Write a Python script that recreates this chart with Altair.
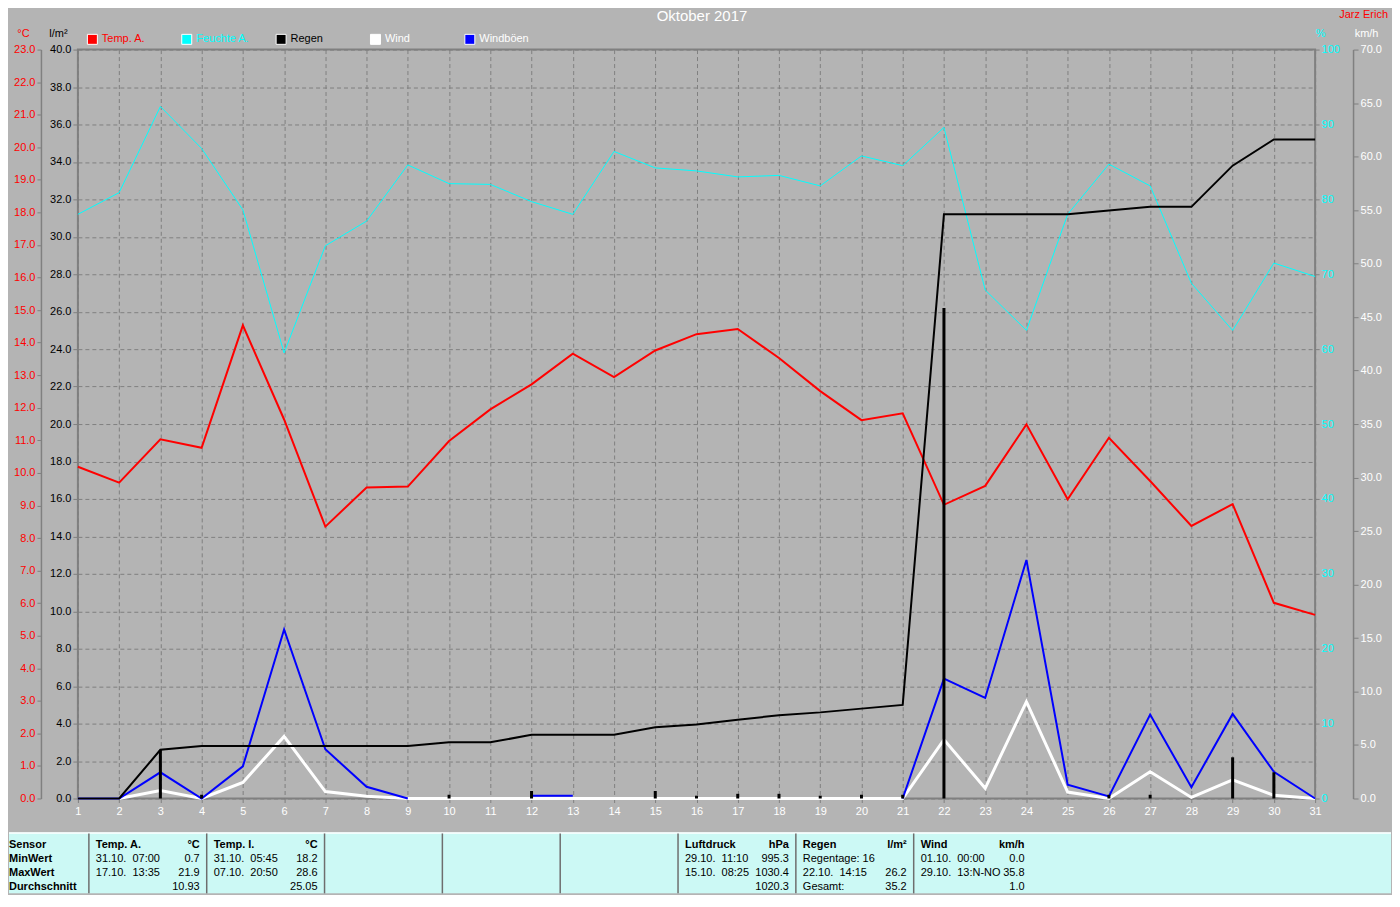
import altair as alt
import pandas as pd

FONT = "Liberation Sans"
GRAY = "#808080"
BG = "#b4b4b4"

# ---------------- data ----------------
days = list(range(1, 32))
temp_a = [10.19, 9.70, 11.03, 10.77, 14.53, 11.64, 8.35, 9.55, 9.58, 10.98,
          11.95, 12.72, 13.66, 12.94, 13.76, 14.26, 14.42, 13.53, 12.51, 11.62,
          11.83, 9.02, 9.60, 11.49, 9.19, 11.08, 9.75, 8.37, 9.04, 6.01, 5.64]
humidity = [78.0, 80.9, 92.4, 86.8, 78.6, 59.5, 73.8, 77.1, 84.6, 82.1,
            82.0, 79.7, 78.0, 86.4, 84.2, 83.8, 83.0, 83.2, 81.8, 85.8,
            84.5, 89.6, 67.9, 62.5, 78.0, 84.7, 81.8, 68.8, 62.5, 71.5, 69.7]
rain_total = [0.0, 0.0, 2.6, 2.8, 2.8, 2.8, 2.8, 2.8, 2.8, 3.0,
              3.0, 3.4, 3.4, 3.4, 3.8, 3.95, 4.2, 4.45, 4.6, 4.8,
              5.0, 31.2, 31.2, 31.2, 31.2, 31.4, 31.6, 31.6, 33.8, 35.2, 35.2]
rain_daily = [0.0, 0.0, 2.6, 0.2, 0.0, 0.0, 0.0, 0.0, 0.0, 0.2,
              0.0, 0.4, 0.0, 0.0, 0.4, 0.15, 0.25, 0.25, 0.15, 0.2,
              0.2, 26.2, 0.0, 0.0, 0.0, 0.2, 0.2, 0.0, 2.2, 1.4, 0.0]
wind = [0.0, 0.0, 0.75, 0.0, 1.5, 5.8, 0.65, 0.2, 0.0, 0.0,
        0.0, 0.0, 0.0, 0.0, 0.0, 0.0, 0.0, 0.0, 0.0, 0.0,
        0.0, 5.5, 0.95, 9.05, 0.6, 0.0, 2.5, 0.1, 1.75, 0.3, 0.0]
gusts = [0.0, 0.0, 2.45, 0.0, 3.0, 15.8, 4.6, 1.1, 0.0, None,
         None, 0.25, 0.25, None, None, None, None, None, None, None,
         0.0, 11.2, 9.4, 22.3, 1.3, 0.2, 7.85, 1.05, 7.9, 2.5, 0.0]

series_names = ["Temp. A.", "Feuchte A.", "Regen", "Wind", "Windböen"]
series_colors = ["#ff0000", "#00ffff", "#000000", "#ffffff", "#0000ff"]

chart_title = ["Oktober 2017"]
author = ["Jarz Erich"]

rain_ticks = [i * 2 for i in range(21)]
temp_ticks = list(range(24))
hum_ticks = list(range(0, 101, 10))
wind_ticks = list(range(0, 71, 5))

# statistics table
row_names = ["Sensor", "MinWert", "MaxWert", "Durchschnitt"]
col_titles = ["Temp. A.", "Temp. I.", "", "", "", "Luftdruck", "Regen", "Wind"]
col_units = ["°C", "°C", "", "", "", "hPa", "l/m²", "km/h"]
col_left = [
    ["31.10.\u00a0 07:00", "17.10.\u00a0 13:35", ""],
    ["31.10.\u00a0 05:45", "07.10.\u00a0 20:50", ""],
    ["", "", ""], ["", "", ""], ["", "", ""],
    ["29.10.\u00a0 11:10", "15.10.\u00a0 08:25", ""],
    ["Regentage: 16", "22.10.\u00a0 14:15", "Gesamt:"],
    ["01.10.\u00a0 00:00", "29.10.\u00a0 13:N-NO", ""],
]
col_right = [
    ["0.7", "21.9", "10.93"],
    ["18.2", "28.6", "25.05"],
    ["", "", ""], ["", "", ""], ["", "", ""],
    ["995.3", "1030.4", "1020.3"],
    ["", "26.2", "35.2"],
    ["0.0", "35.8", "1.0"],
]
separators = list(range(8))

# ---------------- tables for the library ----------------
df = pd.DataFrame({"day": days, "temp": temp_a, "hum": humidity,
                   "rain_total": rain_total, "rain_day": rain_daily, "wind": wind})

g_rows, seg, prev_none = [], 0, False
for d, g in zip(days, gusts):
    if g is None:
        if not prev_none:
            seg += 1
        prev_none = True
        continue
    prev_none = False
    g_rows.append({"day": d, "gust": g, "seg": seg})
gust_df = pd.DataFrame(g_rows)

cells = []
for k in range(len(col_titles)):
    cells.append({"pos": k, "row": row_names[0], "text": col_titles[k], "side": "L", "bold": 1})
    cells.append({"pos": k + 1, "row": row_names[0], "text": col_units[k], "side": "R", "bold": 1})
    for r in range(3):
        cells.append({"pos": k, "row": row_names[r + 1], "text": col_left[k][r], "side": "L", "bold": 0})
        cells.append({"pos": k + 1, "row": row_names[r + 1], "text": col_right[k][r], "side": "R", "bold": 0})
cells_df = pd.DataFrame(cells)
rows_df = pd.DataFrame({"pos": [0] * 4, "row": row_names, "text": row_names})

# ---------------- chart ----------------
xscale = alt.Scale(domain=[1, 31], nice=False, zero=False)


def X(axis=None):
    return alt.X("day:Q", scale=xscale, axis=axis, title=None)


def title_props(text, color, tx):
    return dict(title=text, titleColor=color, titleAngle=0, titleX=tx, titleY=-16,
                titleAlign="center", titleBaseline="middle", titleFont=FONT,
                titleFontSize=11, titleFontWeight="normal")


hum_line = alt.Chart(df).mark_line(color="#00ffff", strokeWidth=1).encode(
    x=X(),
    y=alt.Y("hum:Q", scale=alt.Scale(domain=[0, 100], nice=False),
            axis=alt.Axis(orient="right", values=hum_ticks, format="d", labelColor="#00ffff",
                          tickColor=GRAY, tickSize=4, domain=False, grid=False, labelPadding=2,
                          labelOverlap=False, **title_props("%", "#00ffff", 5))),
)

temp_line = alt.Chart(df).mark_line(color="#ff0000", strokeWidth=2).encode(
    x=X(),
    y=alt.Y("temp:Q", scale=alt.Scale(domain=[0, 23], nice=False),
            axis=alt.Axis(orient="left", offset=37, values=temp_ticks, format=".1f",
                          labelColor="#ff0000", tickColor=GRAY, tickSize=4, domain=True,
                          domainColor=GRAY, domainWidth=1.5, grid=False, labelPadding=2,
                          labelOverlap=False, **title_props("°C", "#ff0000", -18))),
)

wind_line = alt.Chart(df).mark_line(color="#ffffff", strokeWidth=3).encode(
    x=X(),
    y=alt.Y("wind:Q", scale=alt.Scale(domain=[0, 70], nice=False),
            axis=alt.Axis(orient="right", offset=38, values=wind_ticks, format=".1f",
                          labelColor="#ffffff", tickColor=GRAY, tickSize=5, domain=True,
                          domainColor=GRAY, domainWidth=1.5, grid=False, labelPadding=2,
                          labelOverlap=False, **title_props("km/h", "#ffffff", 13))),
)

gust_line = alt.Chart(gust_df).mark_line(color="#0000ff", strokeWidth=2).encode(
    x=X(),
    y=alt.Y("gust:Q", scale=alt.Scale(domain=[0, 70], nice=False), axis=None),
    detail="seg:N",
)

rain_line = alt.Chart(df).mark_line(color="#000000", strokeWidth=2).encode(
    x=X(alt.Axis(values=days, format="d", grid=True, gridDash=[4, 3], gridColor=GRAY,
                 gridWidth=1, labelColor="#ffffff", tickColor=GRAY, tickSize=4,
                 domain=False, labelPadding=3, labelFlush=False, labelOverlap=False)),
    y=alt.Y("rain_total:Q", scale=alt.Scale(domain=[0, 40], nice=False),
            axis=alt.Axis(orient="left", values=rain_ticks, format=".1f", labelColor="#000000",
                          grid=True, gridDash=[4, 3], gridColor=GRAY, gridWidth=1,
                          tickColor=GRAY, tickSize=5, domain=False, labelPadding=2,
                          labelOverlap=False, **title_props("l/m²", "#000000", -20))),
)

rain_bars = alt.Chart(df).transform_filter("datum.rain_day > 0").mark_rule(
    color="#000000", strokeWidth=3, strokeCap="butt").encode(
    x=X(),
    y=alt.Y("rain_day:Q", scale=alt.Scale(domain=[0, 40], nice=False), axis=None),
    y2=alt.datum(0),
)

label_expr = ("datum.label == 'Temp. A.' ? '#ff0000' : datum.label == 'Feuchte A.' ? '#00ffff'"
              " : datum.label == 'Regen' ? '#000000' : '#ffffff'")
legend_layer = alt.Chart(pd.DataFrame({"series": series_names})).mark_square(opacity=0).encode(
    color=alt.Color("series:N", scale=alt.Scale(domain=series_names, range=series_colors),
                    legend=alt.Legend(orient="none", legendX=9, legendY=-16,
                                      direction="horizontal", title=None, symbolType="square",
                                      symbolSize=100, symbolStrokeColor="#ffffff",
                                      symbolStrokeWidth=1, symbolOpacity=1,
                                      labelColor={"expr": label_expr}, labelFont=FONT,
                                      labelFontSize=11, labelOffset=4, columnPadding=23.5,
                                      gridAlign="all", padding=0)),
)

title_text = alt.Chart(pd.DataFrame({"t": chart_title})).mark_text(
    font=FONT, fontSize=15, color="#ffffff", baseline="top", align="center").encode(
    text="t:N", x=alt.value(625), y=alt.value(-41))

author_text = alt.Chart(pd.DataFrame({"t": author})).mark_text(
    font=FONT, fontSize=11, color="#ff0000", baseline="top", align="right").encode(
    text="t:N", x=alt.value(1312), y=alt.value(-41))

# statistics table below the plot
tx = alt.Scale(domain=[0, 8], range=[11, 955], nice=False, zero=False)
ty = alt.Scale(type="point", domain=row_names, range=[797, 839], padding=0)
one = pd.DataFrame({"a": [0]})

tbl_bg = alt.Chart(one).mark_rect(color="#ccf9f5").encode(
    x=alt.value(-69), x2=alt.value(1315), y=alt.value(784), y2=alt.value(845))
tbl_line = alt.Chart(one).mark_rule(color="#ffffff", strokeWidth=1.5).encode(
    x=alt.value(-69), x2=alt.value(1315), y=alt.value(784.5))
tbl_seps = alt.Chart(pd.DataFrame({"pos": separators})).mark_rule(
    color="#6e6e6e", strokeWidth=1.5).encode(
    x=alt.X("pos:Q", scale=tx, axis=None), y=alt.value(785), y2=alt.value(845))


def cell_layer(data, side, bold, dx, align):
    return alt.Chart(data).transform_filter(
        f"datum.side == '{side}' && datum.bold == {bold}").mark_text(
        font=FONT, fontSize=11, color="#000000", baseline="middle", align=align, dx=dx,
        fontWeight="bold" if bold else "normal").encode(
        x=alt.X("pos:Q", scale=tx, axis=None),
        y=alt.Y("row:N", scale=ty, axis=None),
        text="text:N")


tbl_rows = alt.Chart(rows_df).mark_text(
    font=FONT, fontSize=11, color="#000000", baseline="middle", align="left", dx=-80,
    fontWeight="bold").encode(
    x=alt.X("pos:Q", scale=tx, axis=None),
    y=alt.Y("row:N", scale=ty, axis=None),
    text="text:N")

chart = alt.layer(
    hum_line, temp_line, wind_line, gust_line, rain_line, rain_bars, legend_layer,
    title_text, author_text,
    tbl_bg, tbl_line, tbl_seps,
    cell_layer(cells_df, "L", 1, 7, "left"), cell_layer(cells_df, "R", 1, -7, "right"),
    cell_layer(cells_df, "L", 0, 7, "left"), cell_layer(cells_df, "R", 0, -7, "right"),
    tbl_rows,
).resolve_scale(x="independent", y="independent").properties(
    width=1239, height=750, padding=0, background=BG
).configure_view(stroke=GRAY, strokeWidth=2).configure_axis(
    labelFont=FONT, titleFont=FONT, labelFontSize=11, titleFontSize=11
)

chart.save("out.html", embed_options={"renderer": "svg", "actions": False})
